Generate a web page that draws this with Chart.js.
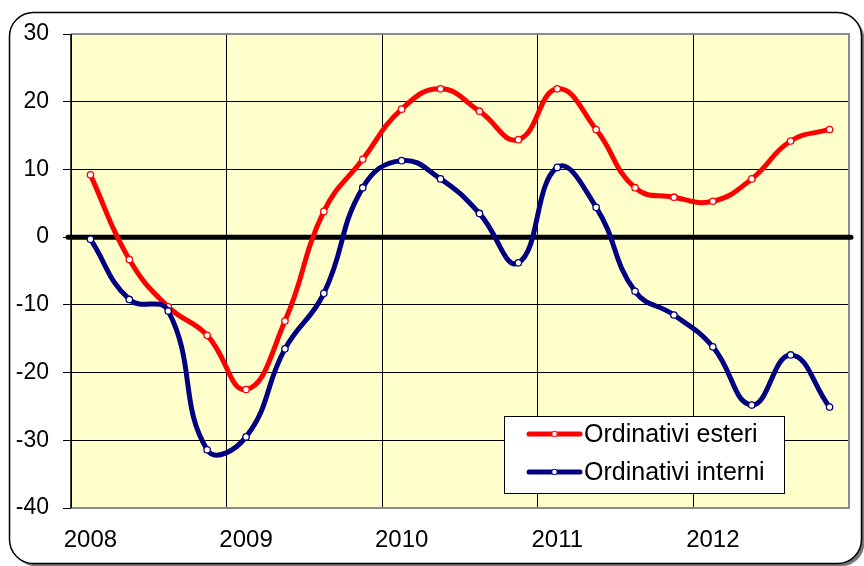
<!DOCTYPE html>
<html>
<head>
<meta charset="utf-8">
<script src="https://cdn.jsdelivr.net/npm/chart.js@4/dist/chart.umd.min.js"></script>
<style>
  html, body { margin: 0; padding: 0; background: #ffffff; }
  #wrap { width: 864px; height: 566px; position: relative; }
</style>
</head>
<body>
<div id="wrap"><canvas id="c" width="864" height="566"></canvas></div>
<script>
// ---- data ----
const categories = [
  '2008 T1','2008 T2','2008 T3','2008 T4',
  '2009 T1','2009 T2','2009 T3','2009 T4',
  '2010 T1','2010 T2','2010 T3','2010 T4',
  '2011 T1','2011 T2','2011 T3','2011 T4',
  '2012 T1','2012 T2','2012 T3','2012 T4'
];
const yearLabels = ['2008','2009','2010','2011','2012'];
const seriesNames = ['Ordinativi esteri', 'Ordinativi interni'];
const ordinativiEsteri = [9.2, -3.3, -10.3, -14.5, -22.5, -12.4, 3.8, 11.5, 18.9, 21.9, 18.6, 14.4, 21.9, 15.9, 7.3, 5.9, 5.3, 8.6, 14.2, 15.9];
const ordinativiInterni = [-0.3, -9.2, -10.9, -31.4, -29.5, -16.5, -8.3, 7.3, 11.3, 8.6, 3.5, -3.8, 10.3, 4.4, -8.0, -11.5, -16.2, -24.8, -17.4, -25.1];
const yMin = -40, yMax = 30, yStep = 10;

const FONT = '"Liberation Sans", Arial, sans-serif';
const RED = '#ff0000';
const NAVY = '#000080';

const framePlugin = {
  id: 'frame',
  beforeDraw(chart) {
    const ctx = chart.ctx;
    const a = chart.chartArea;
    ctx.save();
    ctx.fillStyle = '#ffffff';
    ctx.fillRect(0, 0, chart.width, chart.height);
    // outer rounded frame with shadow
    const x = 9.5, y = 12.5, w = 852, h = 551, r = 24;
    ctx.shadowColor = 'rgba(0,0,0,0.55)';
    ctx.shadowOffsetX = 3;
    ctx.shadowOffsetY = 3;
    ctx.shadowBlur = 1;
    ctx.beginPath();
    ctx.roundRect(x, y, w, h, r);
    ctx.fillStyle = '#ffffff';
    ctx.fill();
    ctx.shadowColor = 'transparent';
    ctx.lineWidth = 1.5;
    ctx.strokeStyle = '#000000';
    ctx.stroke();
    // plot area background
    ctx.fillStyle = '#ffffcc';
    ctx.fillRect(a.left, a.top, a.right - a.left, a.bottom - a.top);
    ctx.restore();
  },
  beforeDatasetsDraw(chart) {
    const ctx = chart.ctx;
    const a = chart.chartArea;
    ctx.save();
    ctx.strokeStyle = '#8c8c8c';
    ctx.lineWidth = 2;
    ctx.beginPath();
    ctx.moveTo(a.left, a.top);
    ctx.lineTo(a.right, a.top);
    ctx.lineTo(a.right, a.bottom);
    ctx.lineTo(a.left, a.bottom);
    ctx.stroke();
    ctx.strokeStyle = '#000000';
    ctx.lineWidth = 1.5;
    ctx.beginPath();
    ctx.moveTo(a.left, a.top);
    ctx.lineTo(a.left, a.bottom);
    ctx.stroke();
    // zero line
    const y0 = chart.scales.y.getPixelForValue(0);
    ctx.strokeStyle = '#000000';
    ctx.lineWidth = 5;
    ctx.lineCap = 'round';
    ctx.beginPath();
    ctx.moveTo(a.left - 3, y0);
    ctx.lineTo(a.right + 2, y0);
    ctx.stroke();
    ctx.restore();
  },
  afterDraw(chart) {
    const ctx = chart.ctx;
    ctx.save();
    const bx = 504.5, by = 416.5, bw = 280, bh = 77;
    ctx.fillStyle = '#ffffff';
    ctx.fillRect(bx, by, bw, bh);
    ctx.strokeStyle = '#000000';
    ctx.lineWidth = 1;
    ctx.strokeRect(bx, by, bw, bh);
    const rows = [434, 472];
    chart.data.datasets.forEach((ds, i) => {
      const yy = rows[i];
      ctx.strokeStyle = ds.borderColor;
      ctx.lineWidth = 5;
      ctx.lineCap = 'round';
      ctx.beginPath();
      ctx.moveTo(529, yy);
      ctx.lineTo(580, yy);
      ctx.stroke();
      ctx.beginPath();
      ctx.arc(554.5, yy, 2.8, 0, Math.PI * 2);
      ctx.fillStyle = '#ffffff';
      ctx.fill();
      ctx.lineWidth = 1;
      ctx.stroke();
      ctx.fillStyle = '#000000';
      ctx.font = '25px ' + FONT;
      ctx.textBaseline = 'middle';
      ctx.textAlign = 'left';
      ctx.fillText(ds.label, 584, yy + 1);
    });
    ctx.restore();
  }
};

new Chart(document.getElementById('c'), {
  type: 'line',
  data: {
    labels: categories,
    datasets: [
      {
        label: seriesNames[0],
        data: ordinativiEsteri,
        borderColor: RED,
        backgroundColor: '#ffffff',
        borderWidth: 5,
        pointRadius: 3.2,
        pointBorderWidth: 1.3,
        pointBackgroundColor: '#ffffff',
        pointBorderColor: RED,
        tension: 0.45,
        order: 1
      },
      {
        label: seriesNames[1],
        data: ordinativiInterni,
        borderColor: NAVY,
        backgroundColor: '#ffffff',
        borderWidth: 5,
        pointRadius: 3.2,
        pointBorderWidth: 1.3,
        pointBackgroundColor: '#ffffff',
        pointBorderColor: NAVY,
        tension: 0.45,
        order: 0
      }
    ]
  },
  options: {
    responsive: false,
    animation: false,
    devicePixelRatio: 1,
    layout: { padding: { top: 34, right: 15, left: 0, bottom: 0 } },
    plugins: {
      legend: { display: false },
      title: { display: false },
      tooltip: { enabled: false }
    },
    scales: {
      x: {
        type: 'category',
        offset: true,
        afterFit(scale) { scale.height = 58; },
        grid: {
          offset: true,
          drawTicks: false,
          lineWidth: 1,
          color(ctx) { return (ctx.index % 4 === 0) ? '#000000' : 'rgba(0,0,0,0)'; }
        },
        border: { display: false },
        ticks: {
          autoSkip: false,
          maxRotation: 0,
          minRotation: 0,
          padding: 18,
          color: '#000000',
          font: { family: FONT, size: 24 },
          callback(value, index) {
            return index % 4 === 0 ? yearLabels[index / 4] : '';
          }
        }
      },
      y: {
        min: yMin,
        max: yMax,
        afterFit(scale) { scale.width = 71; },
        grid: {
          color: '#000000',
          lineWidth: 1,
          tickLength: 8,
          tickColor: '#000000',
          tickWidth: 1
        },
        border: { display: false },
        ticks: {
          stepSize: yStep,
          padding: 14,
          color: '#000000',
          font: { family: FONT, size: 23 }
        }
      }
    }
  },
  plugins: [framePlugin]
});
</script>
</body>
</html>
